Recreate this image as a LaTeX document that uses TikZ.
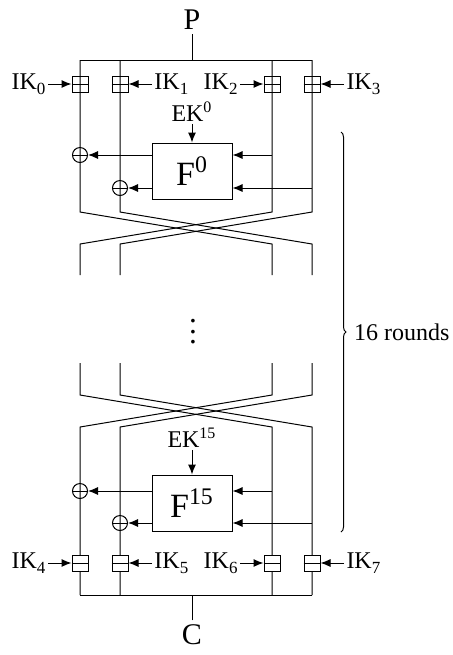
\documentclass[tikz,border=0pt]{standalone}
\usepackage{fontspec}
\setmainfont{Liberation Serif}
\usetikzlibrary{positioning,arrows.meta,decorations.pathreplacing,calc}
\newcommand{\lowsub}[1]{\raisebox{-2.6pt}{\fontsize{8.5}{9}\selectfont #1}}

\begin{document}
\begin{tikzpicture}[x=0.5pt, y=-0.5pt, >={Latex[length=5pt,width=4pt]},
      line width=0.5pt, font=\fontsize{12}{14}\selectfont,
      keybox/.style={draw, minimum size=8pt, inner sep=0pt},
      xorc/.style={draw, circle, minimum size=7.5pt, inner sep=0pt},
      fbox/.style={draw, fill=white, minimum width=40pt, minimum height=28pt,
                   inner sep=0pt, font=\fontsize{17}{20}\selectfont},
      endlbl/.style={inner sep=2pt, font=\fontsize{15}{18}\selectfont},
      keylbl/.style={inner sep=1pt}]
    \useasboundingbox (0,0) rectangle (452,655);
    % wire coordinates
    \foreach \i/\x in {1/80, 2/120, 3/272, 4/312} {
      \coordinate (t\i) at (\x,60);  \coordinate (a\i) at (\x,212);
      \coordinate (b\i) at (\x,244); \coordinate (c\i) at (\x,275);
      \coordinate (d\i) at (\x,363); \coordinate (e\i) at (\x,395);
      \coordinate (f\i) at (\x,427); \coordinate (g\i) at (\x,595);
    }
    \node[endlbl] (P) at (192,20) {P};
    \node[endlbl] (C) at (192,635) {C};
    \draw (P) -- (P |- t1);
    \draw (C) -- (C |- g1);
    \draw (t1) -- (t4);
    \draw (g1) -- (g4);
    \foreach \i/\j in {1/3, 2/4, 3/1, 4/2} {
      \draw (t\i) -- (a\i) -- (b\j) -- (c\j);
      \draw (d\i) -- (e\i) -- (f\j) -- (g\j);
    }
    \node[scale=1.3] (dots) at (193,324) {$\vdots$};
    % rounds
    \foreach \r/\ek/\fy/\ya/\yb in {0/112/171/155/188, 15/438/503/491/523} {
      \node[fbox] (F\r) at (192,\fy) {F\textsuperscript{\r}};
      \node[keylbl] (ek\r) at (192,\ek) {EK\textsuperscript{\r}};
      \node[xorc] (xa\r) at (80,\ya) {};
      \node[xorc] (xb\r) at (120,\yb) {};
      \draw (xa\r.west) -- (xa\r.east);
      \draw (xb\r.west) -- (xb\r.east);
      \draw[->] (ek\r) -- (F\r);
      \draw[->] (F\r.west |- xa\r) -- (xa\r);
      \draw[->] (F\r.west |- xb\r) -- (xb\r);
      \draw[->] (t3 |- xa\r) -- (F\r.east |- xa\r);
      \draw[->] (t4 |- xb\r) -- (F\r.east |- xb\r);
    }
    % key additions
    \foreach \i/\x in {1/80, 2/120, 3/272, 4/312} {
      \node[keybox] (ka\i) at (\x,84) {};
      \draw (ka\i.west) -- (ka\i.east);
      \node[keybox, fill=white] (kb\i) at (\x,563) {};
      \draw (kb\i.west) -- (kb\i.east);
    }
    \foreach \k/\b/\side/\x/\y in {0/ka1/east/48/84, 1/ka2/west/152/84,
        2/ka3/east/240/84, 3/ka4/west/344/84, 4/kb1/east/48/563,
        5/kb2/west/152/563, 6/kb3/east/240/563, 7/kb4/west/344/563} {
      \node[keylbl, anchor=\side] (ik\k) at (\x,\y) {IK\lowsub{\k}};
      \draw[->] (ik\k) -- (\b);
    }
    \draw[decorate, decoration={brace, amplitude=2.5pt}] (341,132) -- (341,532)
      node[midway, right=3pt] (rounds) {16 rounds};
  \end{tikzpicture}
\end{document}
